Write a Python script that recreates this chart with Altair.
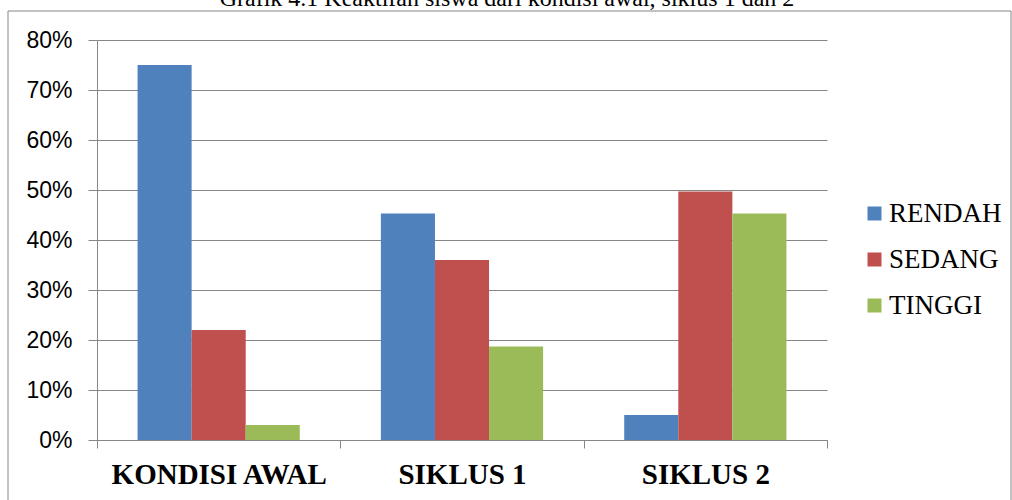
import altair as alt
import pandas as pd

categories = ["KONDISI AWAL", "SIKLUS 1", "SIKLUS 2"]
series = ["RENDAH", "SEDANG", "TINGGI"]
rendah = [0.75, 0.453, 0.05]
sedang = [0.22, 0.36, 0.497]
tinggi = [0.03, 0.187, 0.453]
colors = ["#4F81BD", "#C0504D", "#9BBB59"]
y_ticks = [0, 0.1, 0.2, 0.3, 0.4, 0.5, 0.6, 0.7, 0.8]
title_text = "Grafik 4.1 Keaktifan siswa dari kondisi awal, siklus 1 dan 2"

rows = []
for s, vals in zip(series, [rendah, sedang, tinggi]):
    for c, v in zip(categories, vals):
        rows.append({"kategori": c, "seri": s, "nilai": v})
df = pd.DataFrame(rows)

GRAY = "#868686"

bars = alt.Chart(df).mark_bar(strokeWidth=0).encode(
    x=alt.X(
        "kategori:N",
        sort=categories,
        scale=alt.Scale(paddingInner=0, paddingOuter=0),
        axis=alt.Axis(
            title=None,
            labelAngle=0,
            tickBand="extent",
            ticks=True,
            tickSize=8,
            tickColor=GRAY,
            domainColor=GRAY,
            grid=False,
            labelFont="Liberation Serif",
            labelFontWeight="bold",
            labelFontSize=29,
            labelColor="#000000",
            labelBaseline="top",
            labelPadding=12,
            labelLimit=0,
        ),
    ),
    xOffset=alt.XOffset(
        "seri:N", sort=series, scale=alt.Scale(paddingInner=0, paddingOuter=0.75)
    ),
    y=alt.Y(
        "nilai:Q",
        scale=alt.Scale(domain=[0, 0.8], nice=False),
        axis=alt.Axis(
            title=None,
            values=y_ticks,
            format=".0%",
            tickSize=9,
            tickColor=GRAY,
            domainColor=GRAY,
            gridColor=GRAY,
            gridWidth=1,
            labelFont="Liberation Sans",
            labelFontSize=23,
            labelColor="#000000",
            labelPadding=16,
        ),
    ),
    color=alt.Color(
        "seri:N",
        sort=series,
        scale=alt.Scale(domain=series, range=colors),
        legend=alt.Legend(
            title=None,
            orient="none",
            legendX=764,
            legendY=160,
            padding=0,
            symbolType="square",
            symbolSize=196,
            symbolStrokeWidth=0,
            symbolOpacity=1,
            labelFont="Liberation Serif",
            labelFontSize=27,
            labelColor="#000000",
            labelOffset=1,
            labelLimit=0,
            rowPadding=18,
        ),
    ),
)

title_df = pd.DataFrame({"t": [title_text]})
title = alt.Chart(title_df).mark_text(
    font="Liberation Serif", fontSize=24, baseline="alphabetic", align="center", color="#000000"
).encode(text="t:N", x=alt.value(410), y=alt.value(-34.5))

frame = alt.Chart(title_df).mark_rect(
    fill="transparent", stroke=GRAY, strokeWidth=1
).encode(x=alt.value(-89), x2=alt.value(914), y=alt.value(-29), y2=alt.value(520))

chart = alt.layer(frame, bars, title).properties(
    width=730,
    height=400,
    autosize=alt.AutoSizeParams(type="none"),
    padding={"left": 97, "top": 40, "right": 185, "bottom": 60},
).configure_view(stroke="transparent")

chart.save("out.html", embed_options={"renderer": "svg", "actions": False})
